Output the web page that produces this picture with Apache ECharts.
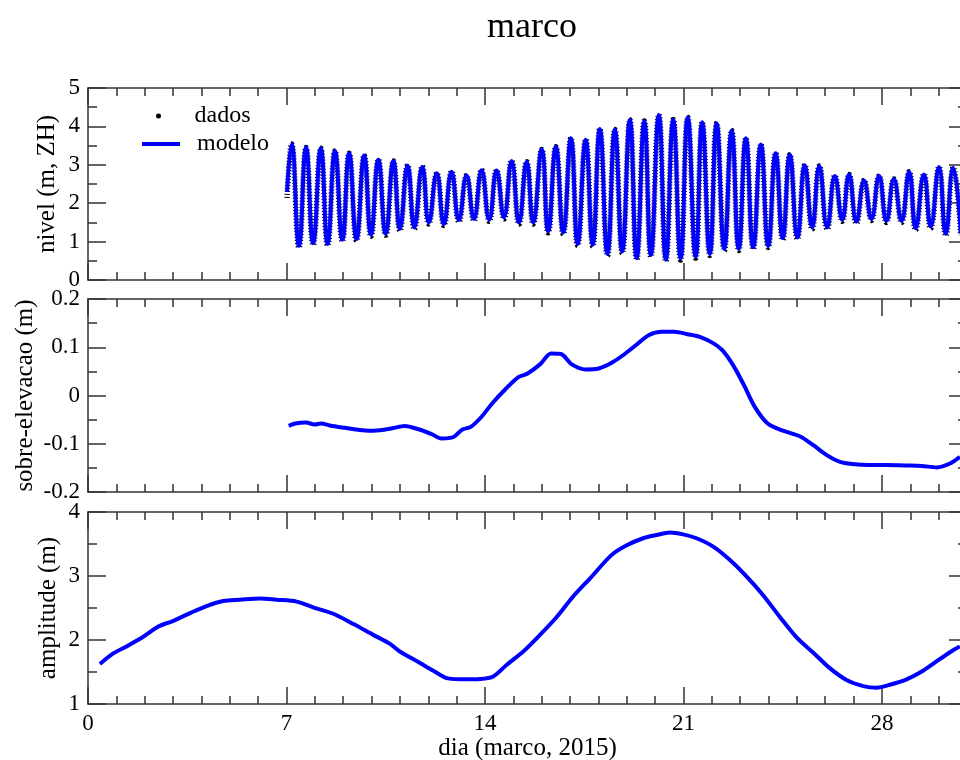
<!DOCTYPE html>
<html>
<head>
<meta charset="utf-8">
<script src="https://cdn.jsdelivr.net/npm/echarts@6/dist/echarts.min.js"></script>
<style>
  html, body { margin: 0; padding: 0; background: #fff; }
  #chart { width: 960px; height: 760px; }
</style>
</head>
<body>
<div id="chart"></div>
<script>
// nivel: preamares e baixamares (dia, m)
const tempoMare = [7.02, 7.18, 7.44, 7.69, 7.94, 8.21, 8.45, 8.71, 8.97, 9.21, 9.47, 9.74, 9.98, 10.24, 10.50, 10.77, 11.00, 11.27, 11.51, 11.79, 12.02, 12.30, 12.55, 12.82, 13.08, 13.35, 13.61, 13.88, 14.15, 14.41, 14.67, 14.94, 15.20, 15.47, 15.70, 16.00, 16.23, 16.50, 16.76, 17.03, 17.27, 17.55, 17.80, 18.05, 18.32, 18.58, 18.84, 19.11, 19.35, 19.62, 19.85, 20.13, 20.38, 20.64, 20.90, 21.15, 21.43, 21.66, 21.93, 22.17, 22.44, 22.70, 22.95, 23.20, 23.46, 23.73, 23.99, 24.25, 24.50, 24.75, 25.02, 25.28, 25.54, 25.79, 26.07, 26.34, 26.60, 26.84, 27.10, 27.37, 27.63, 27.90, 28.16, 28.42, 28.69, 28.96, 29.19, 29.48, 29.72, 30.01, 30.25, 30.51, 30.78]
const nivelModelo = [2.30, 3.54, 0.89, 3.45, 0.96, 3.43, 0.94, 3.36, 1.05, 3.30, 1.07, 3.24, 1.18, 3.13, 1.21, 3.10, 1.33, 2.98, 1.37, 2.95, 1.50, 2.78, 1.46, 2.82, 1.56, 2.72, 1.59, 2.86, 1.57, 2.85, 1.63, 3.10, 1.50, 3.08, 1.50, 3.40, 1.27, 3.47, 1.24, 3.69, 0.94, 3.65, 0.92, 3.93, 0.68, 3.92, 0.74, 4.17, 0.57, 4.14, 0.65, 4.30, 0.53, 4.18, 0.56, 4.24, 0.61, 4.11, 0.68, 4.08, 0.81, 3.89, 0.81, 3.69, 0.85, 3.53, 0.89, 3.30, 1.09, 3.26, 1.11, 2.99, 1.37, 2.97, 1.37, 2.71, 1.57, 2.75, 1.52, 2.59, 1.59, 2.71, 1.54, 2.63, 1.54, 2.82, 1.35, 2.75, 1.39, 2.94, 1.20, 2.92, 1.21]
const nivelDados = [2.14, 3.54, 0.85, 3.45, 0.92, 3.43, 0.90, 3.36, 1.01, 3.30, 1.03, 3.24, 1.14, 3.13, 1.17, 3.10, 1.29, 2.98, 1.33, 2.95, 1.46, 2.78, 1.42, 2.82, 1.52, 2.72, 1.55, 2.86, 1.53, 2.85, 1.59, 3.10, 1.46, 3.08, 1.46, 3.40, 1.23, 3.47, 1.20, 3.69, 0.90, 3.65, 0.88, 3.93, 0.64, 3.92, 0.70, 4.17, 0.53, 4.14, 0.61, 4.30, 0.49, 4.18, 0.52, 4.24, 0.57, 4.11, 0.64, 4.08, 0.77, 3.89, 0.77, 3.69, 0.81, 3.53, 0.85, 3.30, 1.05, 3.26, 1.07, 2.99, 1.33, 2.97, 1.33, 2.71, 1.53, 2.75, 1.48, 2.59, 1.55, 2.71, 1.50, 2.63, 1.50, 2.82, 1.31, 2.75, 1.35, 2.94, 1.16, 2.92, 1.17]

// sobre-elevacao (m)
const tempoSobre = [7.08, 7.31, 7.69, 7.99, 8.22, 8.53, 9.06, 9.52, 9.98, 10.44, 10.74, 11.17, 11.66, 12.12, 12.46, 12.89, 13.19, 13.50, 13.88, 14.26, 14.72, 15.18, 15.49, 15.95, 16.33, 16.68, 17.05, 17.55, 18.01, 18.47, 18.93, 19.38, 19.77, 20.23, 20.68, 21.14, 21.60, 22.06, 22.37, 22.75, 23.13, 23.51, 23.97, 24.51, 25.12, 25.58, 26.04, 26.50, 26.95, 27.57, 28.18, 28.79, 29.40, 29.94, 30.40, 30.75]
const sobreElevacao = [-0.063, -0.058, -0.056, -0.060, -0.058, -0.062, -0.067, -0.071, -0.073, -0.071, -0.068, -0.063, -0.070, -0.080, -0.089, -0.086, -0.071, -0.065, -0.044, -0.016, 0.013, 0.038, 0.045, 0.065, 0.087, 0.086, 0.065, 0.054, 0.056, 0.068, 0.086, 0.107, 0.125, 0.132, 0.132, 0.127, 0.121, 0.108, 0.094, 0.063, 0.022, -0.023, -0.058, -0.073, -0.085, -0.103, -0.123, -0.137, -0.142, -0.144, -0.144, -0.145, -0.146, -0.149, -0.141, -0.127]

// amplitude (m)
const tempoAmp = [0.42, 0.89, 1.36, 1.95, 2.48, 3.01, 3.60, 4.18, 4.77, 5.36, 6.06, 6.65, 7.36, 7.94, 8.65, 9.36, 10.06, 10.65, 11.00, 11.71, 12.18, 12.70, 13.35, 13.82, 14.29, 14.76, 15.35, 15.94, 16.53, 17.11, 17.70, 18.47, 19.00, 19.58, 20.05, 20.52, 20.99, 21.46, 22.05, 22.64, 23.23, 23.81, 24.40, 24.99, 25.58, 26.16, 26.75, 27.34, 27.81, 28.28, 28.87, 29.45, 30.04, 30.51, 30.75]
const amplitude = [1.625, 1.79, 1.90, 2.05, 2.21, 2.30, 2.42, 2.53, 2.61, 2.63, 2.65, 2.63, 2.60, 2.51, 2.41, 2.25, 2.08, 1.94, 1.82, 1.64, 1.52, 1.40, 1.385, 1.39, 1.43, 1.61, 1.82, 2.08, 2.36, 2.68, 2.96, 3.33, 3.48, 3.59, 3.64, 3.68, 3.65, 3.59, 3.46, 3.25, 2.99, 2.70, 2.36, 2.04, 1.80, 1.56, 1.375, 1.28, 1.255, 1.30, 1.385, 1.52, 1.70, 1.84, 1.90]

// eixos
const diaMin = 0
const diaMax = 31
const diaTicks = [0, 7, 14, 21, 28]
const yNomes = ['nivel (m, ZH)', 'sobre-elevacao (m)', 'amplitude (m)']
const yMin = [0, -0.2, 1]
const yMax = [5, 0.2, 4]
const yPasso = [1, 0.1, 1]
const yNomeGap = [28, 50, 27]

const fonte = 'Liberation Serif'
const corEixo = '#333'
const azul = '#0000ff'

const pares = (xs, ys) => xs.map((x, i) => [x, ys[i]])

// o quadro passa um pouco da borda direita, como no original
const grids = [
  { left: 88, top: 88, width: 879, height: 192, outerBoundsMode: 'none', containLabel: false },
  { left: 88, top: 299, width: 879, height: 193, outerBoundsMode: 'none', containLabel: false },
  { left: 88, top: 512, width: 879, height: 192, outerBoundsMode: 'none', containLabel: false }
]

// cada painel: 4 eixos x (baixo/cima, ticks diarios e semanais)
const xAxis = []
grids.forEach((g, i) => {
  ['bottom', 'top'].forEach(pos => {
    // ticks diarios + linha do quadro
    xAxis.push({
      type: 'value', gridIndex: i, position: pos, min: diaMin, max: diaMax, interval: 1,
      axisLine: { show: true, onZero: false, lineStyle: { color: corEixo, width: 1.5 } },
      axisTick: { show: true, inside: true, length: 8, lineStyle: { color: corEixo, width: 1.5 } },
      axisLabel: { show: false },
      splitLine: { show: false }
    })
    // ticks de 7 em 7 dias
    const comRotulo = (i === 2 && pos === 'bottom')
    xAxis.push({
      type: 'value', gridIndex: i, position: pos, min: diaMin, max: diaMax, interval: 7,
      axisLine: { show: false, onZero: false },
      axisTick: { show: true, inside: true, length: 17, lineStyle: { color: corEixo, width: 1.5 } },
      axisLabel: {
        show: comRotulo, margin: 8, fontFamily: fonte, fontSize: 23, color: '#000',
        formatter: v => diaTicks.includes(v) ? String(v) : ''
      },
      splitLine: { show: false },
      name: comRotulo ? 'dia (marco, 2015)' : '',
      nameLocation: 'middle', nameGap: 32, nameMoveOverlap: false,
      nameTextStyle: { fontFamily: fonte, fontSize: 25, color: '#000' }
    })
  })
})

// cada painel: eixo y esquerdo (rotulos) e direito (so ticks)
const yAxis = []
grids.forEach((g, i) => {
  ['left', 'right'].forEach(pos => {
    yAxis.push({
      type: 'value', gridIndex: i, position: pos, min: yMin[i], max: yMax[i], interval: yPasso[i],
      axisLine: { show: true, onZero: false, lineStyle: { color: corEixo, width: 1.5 } },
      axisTick: { show: true, inside: true, length: 18, lineStyle: { color: corEixo, width: 1.5 } },
      minorTick: { show: true, splitNumber: 2, length: 9, lineStyle: { color: corEixo, width: 1.5 } },
      axisLabel: { show: pos === 'left', margin: 8, fontFamily: fonte, fontSize: 23, color: '#000' },
      splitLine: { show: false },
      name: pos === 'left' ? yNomes[i] : '',
      nameLocation: 'middle', nameGap: yNomeGap[i], nameMoveOverlap: false,
      nameTextStyle: { fontFamily: fonte, fontSize: 25, color: '#000' }
    })
  })
})

const legendaBase = {
  orient: 'vertical', selectedMode: false, itemGap: 0,
  textStyle: { fontFamily: fonte, fontSize: 24, color: '#000', padding: [0, 0, 0, 12] }
}

const option = {
  backgroundColor: '#fff',
  animation: false,
  title: {
    text: 'marco', left: 527, top: 5, textAlign: 'center',
    textStyle: { fontFamily: fonte, fontSize: 36, fontWeight: 'normal', color: '#000' }
  },
  legend: [
    Object.assign({}, legendaBase, {
      left: 151, top: 99, itemWidth: 38, itemHeight: 5, symbolKeepAspect: true,
      data: [{ name: 'dados', icon: 'circle' }]
    }),
    Object.assign({}, legendaBase, {
      left: 137, top: 127, itemWidth: 38, itemHeight: 4,
      data: [{ name: 'modelo', icon: 'rect' }]
    })
  ],
  grid: grids,
  xAxis: xAxis,
  yAxis: yAxis,
  series: [
    {
      name: 'dados', type: 'line', xAxisIndex: 0, yAxisIndex: 0,
      data: pares(tempoMare, nivelDados),
      smooth: true, symbol: 'none', color: '#000', z: 2,
      lineStyle: { color: '#000', width: 5.5, type: [1, 2] }
    },
    {
      name: 'modelo', type: 'line', xAxisIndex: 0, yAxisIndex: 0,
      data: pares(tempoMare, nivelModelo),
      smooth: true, symbol: 'none', color: azul, z: 3,
      lineStyle: { color: azul, width: 4 }
    },
    {
      name: 'sobre-elevacao', type: 'line', xAxisIndex: 4, yAxisIndex: 2,
      data: pares(tempoSobre, sobreElevacao),
      smooth: 0.3, symbol: 'none', color: azul,
      lineStyle: { color: azul, width: 4 }
    },
    {
      name: 'amplitude', type: 'line', xAxisIndex: 8, yAxisIndex: 4,
      data: pares(tempoAmp, amplitude),
      smooth: 0.3, symbol: 'none', color: azul,
      lineStyle: { color: azul, width: 4 }
    }
  ]
}

const myChart = echarts.init(document.getElementById('chart'))
myChart.setOption(option)
</script>
</body>
</html>
